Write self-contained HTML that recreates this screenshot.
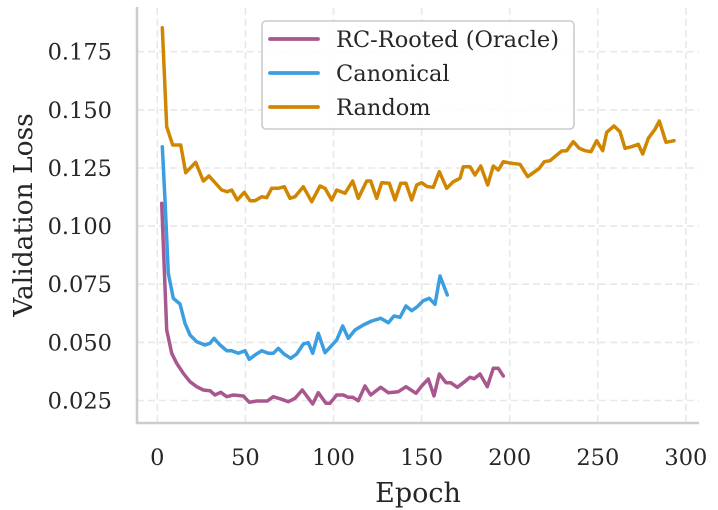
<!DOCTYPE html>
<html>
<head>
<meta charset="utf-8">
<style>
  html, body { margin: 0; padding: 0; background: #ffffff; }
  svg { display: block; }
  text { font-family: "DejaVu Serif", "Liberation Serif", serif; fill: #262626; }
</style>
</head>
<body>
<svg width="718" height="510" viewBox="0 0 718 510" xmlns="http://www.w3.org/2000/svg">
  <rect x="0" y="0" width="718" height="510" fill="#ffffff"/>

  <!-- grid -->
  <g stroke="#e8e8e8" stroke-width="1.6" stroke-dasharray="7 4" fill="none">
    <line x1="157.3" y1="8" x2="157.3" y2="423"/>
    <line x1="245.4" y1="8" x2="245.4" y2="423"/>
    <line x1="333.5" y1="8" x2="333.5" y2="423"/>
    <line x1="421.6" y1="8" x2="421.6" y2="423"/>
    <line x1="509.7" y1="8" x2="509.7" y2="423"/>
    <line x1="597.8" y1="8" x2="597.8" y2="423"/>
    <line x1="685.9" y1="8" x2="685.9" y2="423"/>

    <line x1="137" y1="400.5" x2="699" y2="400.5"/>
    <line x1="137" y1="342.4" x2="699" y2="342.4"/>
    <line x1="137" y1="284.2" x2="699" y2="284.2"/>
    <line x1="137" y1="226.1" x2="699" y2="226.1"/>
    <line x1="137" y1="168.0" x2="699" y2="168.0"/>
    <line x1="137" y1="109.9" x2="699" y2="109.9"/>
    <line x1="137" y1="51.7" x2="699" y2="51.7"/>
  </g>

  <!-- spines -->
  <line x1="137" y1="7" x2="137" y2="424" stroke="#cccccc" stroke-width="2.6"/>
  <line x1="136" y1="423" x2="699" y2="423" stroke="#cccccc" stroke-width="2.6"/>

  <!-- series -->
  <g fill="none" stroke-width="3.5" stroke-linejoin="round" stroke-linecap="round">
    <polyline stroke="#d08600" points="162.3,27.7 166.7,126.7 172.7,145 180.7,145 185.7,172.7 195.7,162.3 203.3,181 209,176 221.7,190 227.3,191.7 231.7,190 237.3,200 244.3,192.3 250,200.7 255,200.7 261.7,196.7 266.7,197.7 271.7,188.3 278.3,188.3 284.3,186.7 290,198.3 295,196.7 303.3,186.7 311.7,201.7 320,186 325,188.3 331.7,200 336.7,190 345,193.3 352.7,181 358.3,198.3 366.7,181 370.7,181 376.7,198.3 381.7,182.7 389.3,183.3 395,200 400.7,183.3 406,183.3 411.7,200 416.7,185 421.7,182.7 427,186.5 433.3,187.3 439.3,171.7 446.7,188.3 453.3,181.7 460,178.3 463.3,166.7 470,166.7 475,175 480.7,166 487.7,185 493.3,166 498.3,170 503.3,161.7 511.7,163.3 520,164.3 527.7,176.7 533.3,172.7 539,168.7 544.3,161.7 550,160.7 556,155.7 561.7,151 566.7,150.7 573.3,141.7 579.3,148.3 585,150.7 591,151.7 596.7,140.7 602.7,150.7 606.7,132.3 614,126 620,131.7 625,148.3 631.7,146.7 638.3,144.3 642.7,154 648.3,138.3 655,129.3 659.3,121 666,142.3 674,140.7"/>
    <polyline stroke="#3a9ee0" points="162.3,146.7 165,200 168.3,273.3 173.3,298.3 180,304 185,323.3 190,335 196.7,341.7 205,345 210,343.3 214,338.3 220,345 226.7,350.7 231.7,350.7 238.3,353.3 245,350.7 249.3,359.3 255,355 261.7,350.7 268.3,353.3 273.3,353.3 278.3,348.3 284,354 290.7,358.3 296.7,354 303.3,344 308.3,342.7 312.7,353.3 318.3,333.3 325,352.7 330,347.3 336.7,340 342.7,326 348.3,338.3 355,330 363.3,325 371.7,321 380.7,318.3 388.3,322.7 394,316 400,317.3 406,306 411.7,310.7 417.3,306.7 423.3,300.7 429.3,298.3 435,304.3 440,276 447.3,295"/>
    <polyline stroke="#a8588e" points="161.7,203.3 166.7,330 171.7,353.3 176.7,363.3 183.3,373.3 190,381.7 196.7,386.7 203.3,390 210,390.7 215,395 220.7,392.3 226.7,396.7 233.3,395 243.3,396 249.3,402.3 256.7,401 267.3,401 273.3,396.7 281.7,399.3 288.3,401.7 295,398.3 302.3,390 312.7,404 318.3,392.7 326,403.3 330,403.3 336.7,395 343.3,395 348.3,397.3 352.7,397.3 358.3,400.7 365,386 370.7,395 380.7,387.3 388.3,392.7 398.3,391.7 406,386.7 416,393.3 421.7,386 428.3,379 434,396 439.3,374 446,382.7 450.7,382.7 457.3,387.3 463.3,382.7 470,377.3 474,378.7 480,374 487.3,386.7 493.3,368.3 498.3,368.3 503.3,376"/>
  </g>

  <!-- legend -->
  <rect x="262" y="21" width="312" height="108" rx="4" ry="4" fill="#ffffff" fill-opacity="0.85" stroke="#cccccc" stroke-width="1.6"/>
  <g stroke-width="3.8" stroke-linecap="round">
    <line x1="270" y1="39" x2="318" y2="39" stroke="#a8588e"/>
    <line x1="270" y1="73" x2="318" y2="73" stroke="#3a9ee0"/>
    <line x1="270" y1="107" x2="318" y2="107" stroke="#d08600"/>
  </g>
  <g font-size="22.5">
    <text x="336" y="47">RC-Rooted (Oracle)</text>
    <text x="336" y="81">Canonical</text>
    <text x="336" y="115">Random</text>
  </g>

  <!-- y tick labels -->
  <g font-size="22.5" text-anchor="end">
    <text x="112" y="408.5">0.025</text>
    <text x="112" y="350.4">0.050</text>
    <text x="112" y="292.2">0.075</text>
    <text x="112" y="234.1">0.100</text>
    <text x="112" y="176.0">0.125</text>
    <text x="112" y="117.9">0.150</text>
    <text x="112" y="59.7">0.175</text>
  </g>

  <!-- x tick labels -->
  <g font-size="22.5" text-anchor="middle">
    <text x="157.3" y="465">0</text>
    <text x="245.4" y="465">50</text>
    <text x="333.5" y="465">100</text>
    <text x="421.6" y="465">150</text>
    <text x="509.7" y="465">200</text>
    <text x="597.8" y="465">250</text>
    <text x="685.9" y="465">300</text>
  </g>

  <!-- axis labels -->
  <text x="418" y="502" font-size="27" text-anchor="middle">Epoch</text>
  <text transform="translate(32,215) rotate(-90)" font-size="26.5" text-anchor="middle">Validation Loss</text>
</svg>
</body>
</html>
